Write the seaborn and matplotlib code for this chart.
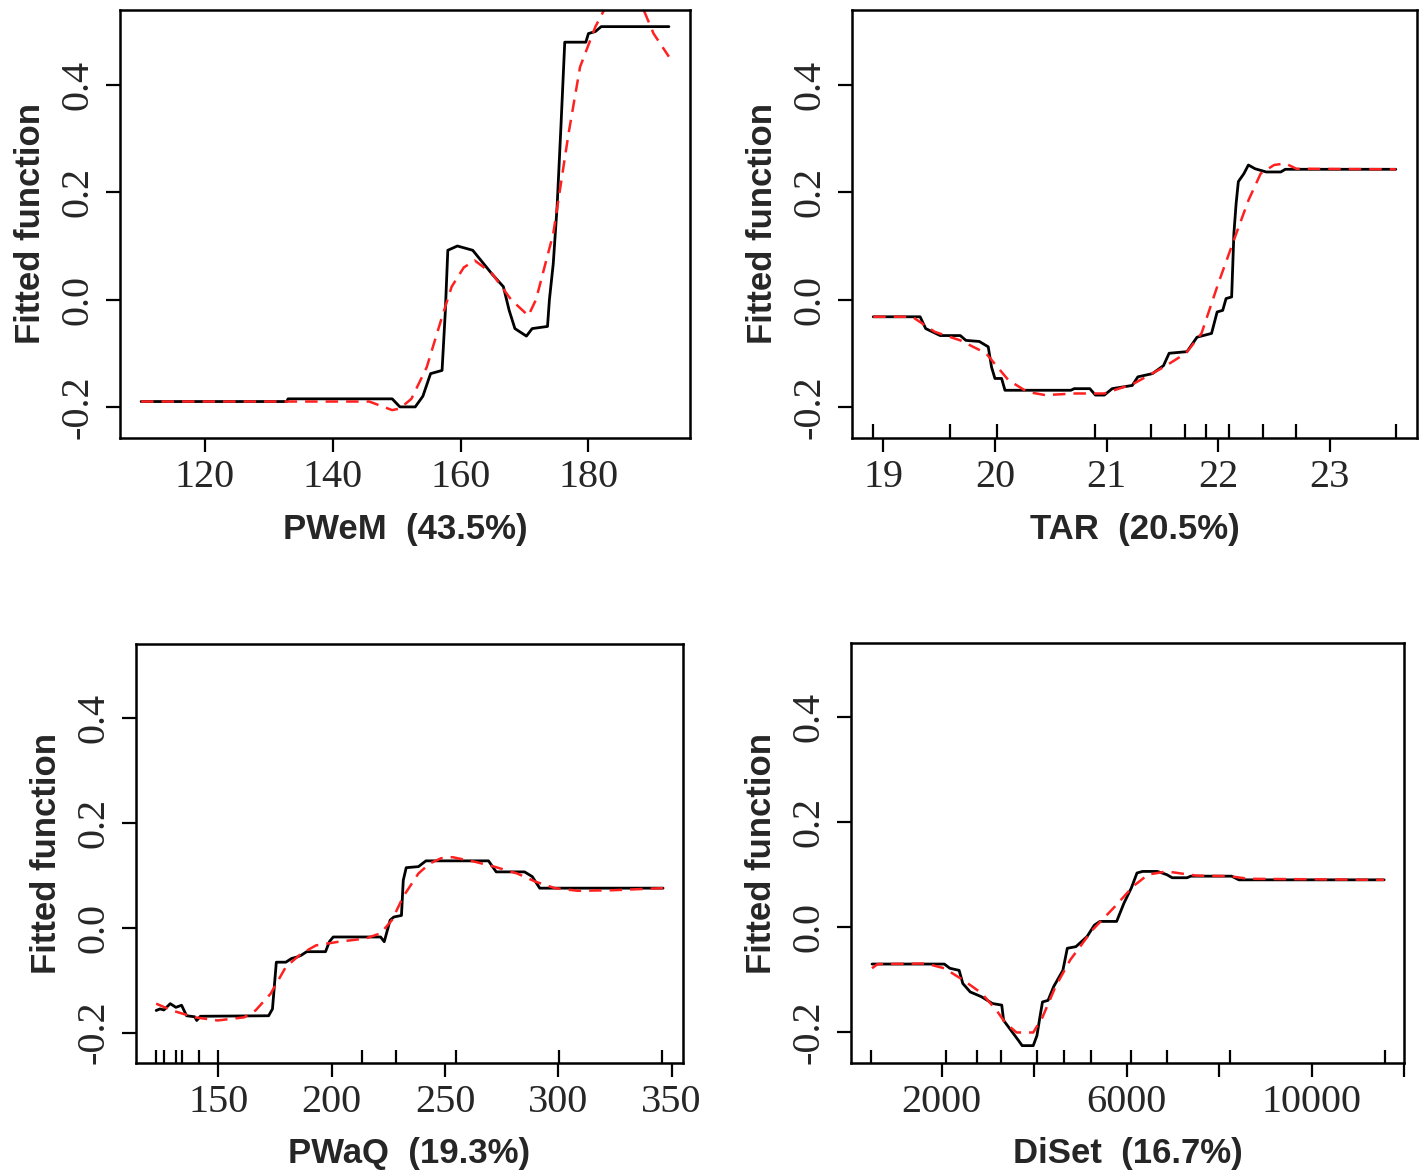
import matplotlib
matplotlib.use("Agg")
import matplotlib.pyplot as plt
import seaborn as sns
import pandas as pd

# ---------------- data ----------------
# Panel 1: PWeM
pwem_x = [110.0, 132.8, 133.0, 149.3, 150.5, 152.9, 154.1, 155.3, 157.1, 157.6, 158.0, 159.5,
          161.9, 164.9, 166.7, 167.6, 168.5, 170.3, 171.2, 173.6, 173.9, 174.5, 175.1, 175.7,
          176.3, 179.6, 180.0, 181.1, 182.0, 192.6]
pwem_y = [-0.19, -0.19, -0.185, -0.185, -0.2, -0.2, -0.18, -0.138, -0.132, -0.024, 0.092, 0.1,
          0.092, 0.048, 0.024, -0.02, -0.054, -0.068, -0.054, -0.05, 0.0, 0.067, 0.173, 0.322,
          0.48, 0.48, 0.496, 0.5, 0.509, 0.509]
pwem_sx = [110.0, 145.7, 147.5, 149.3, 150.5, 152.3, 154.7, 157.1, 158.6, 160.5, 162.2, 164.9,
           167.9, 170.6, 171.8, 174.5, 176.9, 178.7, 181.1, 182.9, 185.5, 188.3, 190.2, 192.6]
pwem_sy = [-0.19, -0.19, -0.198, -0.206, -0.203, -0.185, -0.126, -0.032, 0.024, 0.06, 0.073, 0.049,
           0.0, -0.03, 0.0, 0.123, 0.31, 0.434, 0.509, 0.55, 0.565, 0.55, 0.496, 0.453]

# Panel 2: TAR
tar_x = [18.91, 19.33, 19.38, 19.51, 19.69, 19.74, 19.86, 19.94, 19.97, 20.00, 20.06, 20.09,
         20.68, 20.71, 20.85, 20.90, 20.98, 21.05, 21.23, 21.28, 21.41, 21.51, 21.56, 21.72,
         21.81, 21.94, 21.99, 22.04, 22.07, 22.12, 22.14, 22.16, 22.18, 22.23, 22.27, 22.33,
         22.43, 22.56, 22.60, 23.59]
tar_y = [-0.032, -0.032, -0.054, -0.067, -0.067, -0.076, -0.078, -0.088, -0.126, -0.147, -0.147, -0.169,
         -0.169, -0.166, -0.166, -0.178, -0.178, -0.166, -0.16, -0.144, -0.138, -0.123, -0.1, -0.097,
         -0.07, -0.063, -0.023, -0.02, 0.002, 0.005, 0.123, 0.179, 0.22, 0.235, 0.251, 0.244,
         0.238, 0.238, 0.243, 0.243]
tar_sx = [18.91, 19.26, 19.46, 19.69, 19.92, 20.12, 20.29, 20.45, 20.72, 20.98, 21.24, 21.51,
          21.71, 21.85, 22.00, 22.14, 22.27, 22.38, 22.50, 22.60, 22.70, 23.59]
tar_sy = [-0.032, -0.032, -0.06, -0.076, -0.1, -0.15, -0.172, -0.178, -0.175, -0.175, -0.157, -0.126,
          -0.1, -0.063, 0.03, 0.111, 0.185, 0.235, 0.251, 0.254, 0.244, 0.243]
tar_rug = [18.91, 19.60, 20.02, 20.90, 21.40, 21.70, 21.89, 22.10, 22.40, 22.70, 23.59]

# Panel 3: PWaQ
pwaq_x = [122.6, 124.3, 126.0, 128.8, 131.3, 133.8, 136.0, 139.6, 140.5, 142.1, 172.2, 173.9,
          175.6, 179.8, 182.3, 184.8, 186.5, 189.0, 197.3, 199.0, 200.7, 221.6, 223.2, 225.8,
          227.4, 230.8, 231.6, 232.9, 238.3, 241.6, 269.2, 272.6, 285.1, 288.5, 291.8, 346.2]
pwaq_y = [-0.158, -0.155, -0.157, -0.145, -0.152, -0.148, -0.168, -0.17, -0.177, -0.169, -0.168, -0.155,
          -0.066, -0.066, -0.059, -0.056, -0.053, -0.046, -0.046, -0.027, -0.018, -0.018, -0.027, 0.014,
          0.02, 0.023, 0.09, 0.114, 0.116, 0.127, 0.127, 0.106, 0.106, 0.097, 0.075, 0.075]
pwaq_sx = [122.6, 129.6, 139.6, 149.7, 161.4, 166.4, 173.1, 179.8, 186.5, 193.1, 203.2, 214.9,
           221.6, 226.6, 231.6, 238.3, 243.3, 248.3, 253.3, 263.4, 271.7, 281.8, 290.1, 298.5,
           308.5, 323.6, 346.2]
pwaq_sy = [-0.145, -0.158, -0.171, -0.177, -0.171, -0.158, -0.126, -0.075, -0.05, -0.034, -0.027, -0.021,
           -0.011, 0.014, 0.059, 0.103, 0.122, 0.132, 0.134, 0.125, 0.116, 0.103, 0.087, 0.075,
           0.07, 0.071, 0.075]
pwaq_rug = [122.6, 126.0, 131.3, 133.8, 141.3, 149.7, 213.2, 228.6, 255.0, 300.2, 345.7]

# Panel 4: DiSet
diset_x = [493, 2056, 2176, 2377, 2457, 2617, 2858, 3098, 3299, 3339, 3499, 3659, 3740, 3980,
           4060, 4124, 4180, 4300, 4421, 4621, 4717, 4902, 5142, 5303, 5423, 5784, 5944, 6104,
           6224, 6345, 6665, 6866, 6986, 7307, 7387, 8269, 8429, 11571]
diset_y = [-0.07, -0.07, -0.078, -0.082, -0.107, -0.123, -0.132, -0.145, -0.148, -0.177, -0.196, -0.215,
           -0.225, -0.225, -0.206, -0.171, -0.142, -0.139, -0.113, -0.082, -0.04, -0.037, -0.018, 0.004,
           0.011, 0.011, 0.046, 0.075, 0.103, 0.106, 0.106, 0.1, 0.094, 0.094, 0.097, 0.097, 0.09, 0.09]
diset_sx = [493, 613, 1655, 2056, 2457, 2858, 3178, 3379, 3619, 3980, 4180, 4461, 4781, 5263,
            5744, 6144, 6465, 6866, 7507, 8228, 8629, 11571]
diset_sy = [-0.078, -0.07, -0.069, -0.078, -0.1, -0.125, -0.157, -0.182, -0.2, -0.2, -0.171, -0.113,
            -0.062, -0.005, 0.039, 0.078, 0.1, 0.106, 0.098, 0.097, 0.092, 0.09]
diset_rug = [480, 2090, 2760, 3290, 4070, 4635, 5220, 6095, 6868, 8240, 11580]

xlabels = ["PWeM  (43.5%)", "TAR  (20.5%)", "PWaQ  (19.3%)", "DiSet  (16.7%)"]
ylabel = "Fitted function"
y_ticks = [-0.2, 0.0, 0.2, 0.4]
y_ticklabels = ["-0.2", "0.0", "0.2", "0.4"]

# ---------------- figure ----------------
sns.set_style("white")
plt.rcParams["font.family"] = ["Liberation Serif", "DejaVu Serif"]

fig = plt.figure(figsize=(14.28, 11.72), dpi=100)
W, H = 1428, 1172
boxes = [(120, 690, 10, 438), (852, 1417, 10, 438), (136, 683, 644, 1063), (851, 1404, 643, 1063)]
axes = []
for (l, r, t, b) in boxes:
    axes.append(fig.add_axes([l / W, 1 - b / H, (r - l) / W, (b - t) / H]))

panels = [
    (pwem_x, pwem_y, pwem_sx, pwem_sy, None, (106.7, 195.9), [120, 140, 160, 180], ["120", "140", "160", "180"]),
    (tar_x, tar_y, tar_sx, tar_sy, tar_rug, (18.72, 23.78), [19, 20, 21, 22, 23], ["19", "20", "21", "22", "23"]),
    (pwaq_x, pwaq_y, pwaq_sx, pwaq_sy, pwaq_rug, (113.7, 355.0), [150, 200, 250, 300, 350],
     ["150", "200", "250", "300", "350"]),
    (diset_x, diset_y, diset_sx, diset_sy, diset_rug, (38, 12000), [2000, 4000, 6000, 8000, 10000, 12000],
     ["2000", "", "6000", "", "10000", ""]),
]

TICK_FS = 29
LAB_FS = 25
for i, (ax, (x, y, sx, sy, rug, xlim, xt, xtl)) in enumerate(zip(axes, panels)):
    df = pd.DataFrame({"x": x, "y": y})
    dfs = pd.DataFrame({"x": sx, "y": sy})
    sns.lineplot(data=df, x="x", y="y", ax=ax, color="black", linewidth=2.0,
                 estimator=None, sort=False)
    sns.lineplot(data=dfs, x="x", y="y", ax=ax, color="#ff2020", linewidth=1.8,
                 linestyle=(0, (5, 3.2)), estimator=None, sort=False)
    if rug is not None:
        sns.rugplot(x=rug, ax=ax, height=0.032, color="black", linewidth=1.6, expand_margins=False)
    ax.set_xlim(*xlim)
    ax.set_ylim(-0.258, 0.54)
    ax.set_xticks(xt)
    ax.set_xticklabels(xtl, fontsize=TICK_FS)
    ax.set_yticks(y_ticks)
    ax.set_yticklabels(y_ticklabels, fontsize=TICK_FS, rotation=90, va="center")
    ax.tick_params(axis="both", direction="out", length=10, width=1.6, color="black",
                   bottom=True, left=True, top=False, right=False)
    ax.tick_params(axis="x", pad=5)
    ax.tick_params(axis="y", pad=7)
    for s in ax.spines.values():
        s.set_visible(True)
        s.set_color("black")
        s.set_linewidth(1.8)
    ax.set_xlabel(xlabels[i], fontsize=LAB_FS, fontweight="bold", family="Liberation Sans", labelpad=12)
    ax.set_ylabel(ylabel, fontsize=LAB_FS, fontweight="bold", family="Liberation Sans", labelpad=9)
    ax.grid(False)
    ax.set_facecolor("white")

fig.savefig("out.png", dpi=100, facecolor="white")
